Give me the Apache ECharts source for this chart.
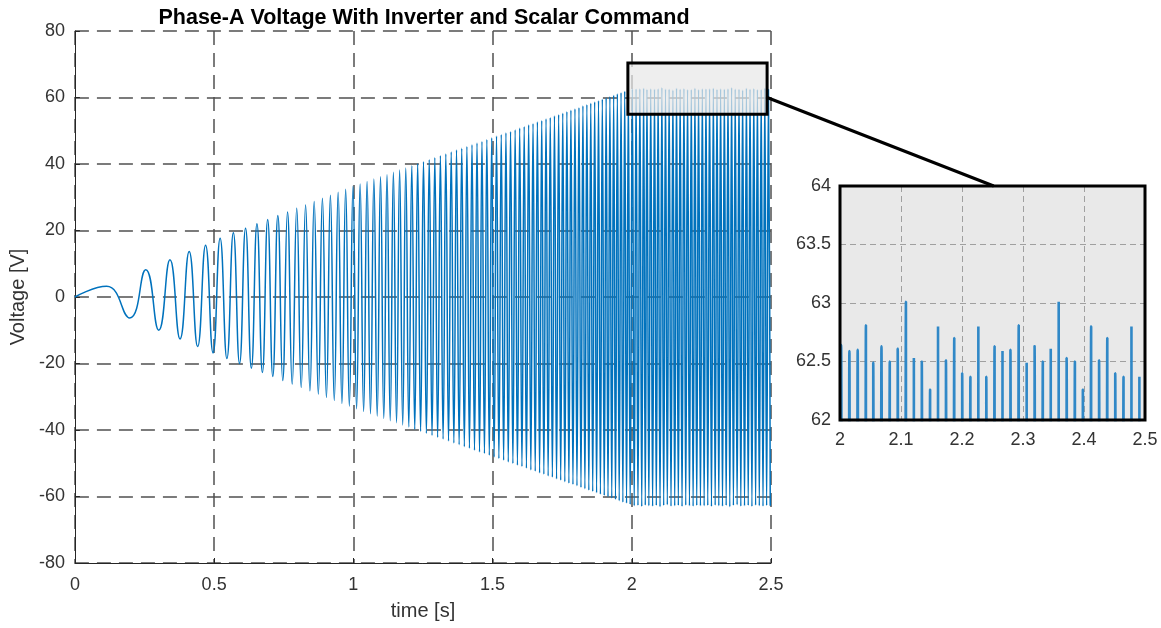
<!DOCTYPE html>
<html>
<head>
<meta charset="utf-8">
<script src="https://cdn.jsdelivr.net/npm/echarts@6/dist/echarts.min.js"></script>
<style>
  html, body { margin: 0; padding: 0; background: #fff; }
  #chart { width: 1161px; height: 628px; }
</style>
</head>
<body>
<div id="chart"></div>
<script>
// ---- Data ----
// Peak instants (s) of the chirp before t = 2 s (alternating +/- peaks)
const chirpTimes = [
  0.1138,0.1971,0.2545,0.3011,0.3414,0.3775,0.4103,0.4408,0.4693,0.4961,
  0.5215,0.5458,0.5690,0.5913,0.6129,0.6337,0.6538,0.6733,0.6923,0.7107,
  0.7288,0.7463,0.7635,0.7803,0.7967,0.8127,0.8285,0.8441,0.8593,0.8742,
  0.8889,0.9033,0.9176,0.9315,0.9454,0.9590,0.9724,0.9856,0.9987,1.0116,
  1.0243,1.0369,1.0493,1.0615,1.0738,1.0857,1.0976,1.1093,1.1209,1.1324,
  1.1438,1.1551,1.1662,1.1773,1.1883,1.1991,1.2099,1.2205,1.2310,1.2415,
  1.2519,1.2623,1.2725,1.2826,1.2926,1.3027,1.3126,1.3223,1.3321,1.3418,
  1.3515,1.3610,1.3705,1.3799,1.3893,1.3986,1.4078,1.4169,1.4261,1.4351,
  1.4441,1.4531,1.4619,1.4708,1.4795,1.4883,1.4969,1.5056,1.5142,1.5227,
  1.5312,1.5397,1.5480,1.5564,1.5646,1.5730,1.5811,1.5893,1.5974,1.6055,
  1.6136,1.6216,1.6296,1.6375,1.6453,1.6532,1.6610,1.6689,1.6766,1.6842,
  1.6920,1.6996,1.7072,1.7148,1.7223,1.7298,1.7373,1.7447,1.7521,1.7595,
  1.7669,1.7741,1.7814,1.7887,1.7959,1.8031,1.8103,1.8175,1.8245,1.8316,
  1.8387,1.8457,1.8527,1.8597,1.8667,1.8736,1.8805,1.8873,1.8942,1.9011,
  1.9079,1.9146,1.9214,1.9281,1.9349,1.9415,1.9482,1.9548,1.9614,1.9680,
  1.9746,1.9812,1.9877,1.9942
];
// Peak voltages (V) at those instants
const chirpPeaks = [
  3.2,-6.3,8.2,-10.0,11.2,-12.6,13.7,-14.9,15.6,-16.8,
  17.7,-18.5,19.3,-20.0,20.7,-21.4,22.0,-22.7,23.3,-23.9,
  24.5,-25.1,25.6,-26.2,26.7,-27.2,27.7,-28.2,28.7,-29.2,
  29.7,-30.2,30.6,-31.1,31.5,-32.0,32.4,-32.8,33.3,-33.6,
  34.0,-34.4,34.7,-35.1,35.5,-35.8,36.2,-36.5,36.8,-37.2,
  37.5,-37.8,38.2,-38.5,38.8,-39.1,39.5,-39.8,40.1,-40.4,
  40.7,-41.0,41.3,-41.6,41.9,-42.2,42.5,-42.7,43.0,-43.3,
  43.6,-43.9,44.2,-44.4,44.7,-45.0,45.3,-45.5,45.8,-46.1,
  46.3,-46.6,46.8,-47.1,47.4,-47.6,47.9,-48.1,48.4,-48.6,
  48.9,-49.1,49.4,-49.6,49.8,-50.1,50.3,-50.6,50.8,-51.0,
  51.3,-51.5,51.8,-52.0,52.2,-52.4,52.7,-52.9,53.1,-53.3,
  53.6,-53.8,54.0,-54.2,54.5,-54.7,54.9,-55.1,55.3,-55.6,
  55.8,-56.0,56.2,-56.4,56.6,-56.8,57.0,-57.3,57.5,-57.7,
  57.9,-58.1,58.3,-58.5,58.7,-58.9,59.1,-59.3,59.5,-59.7,
  59.9,-60.1,60.3,-60.5,60.7,-60.9,61.1,-61.3,61.5,-61.7,
  61.9,-62.0,62.2,-62.4
];
// Steady-state positive peaks
const steadyPosTimes = [
  2.0019,2.0154,2.0290,2.0425,2.0545,2.0680,2.0816,2.0946,2.1081,2.1211,
  2.1341,2.1477,2.1607,2.1737,2.1873,2.2003,2.2138,2.2268,2.2398,2.2534,
  2.2664,2.2794,2.2930,2.3060,2.3190,2.3325,2.3455,2.3585,2.3715,2.3851,
  2.3981,2.4117,2.4247,2.4382,2.4512,2.4648,2.4778,2.4908
];
const steadyPosPeaks = [
  62.64,62.59,62.60,62.81,62.49,62.63,62.50,62.61,63.01,62.53,
  62.50,62.26,62.80,62.51,62.70,62.40,62.37,62.80,62.37,62.63,
  62.59,62.60,62.81,62.49,62.63,62.50,62.61,63.01,62.53,62.50,
  62.26,62.80,62.51,62.70,62.40,62.37,62.80,62.37
];
// Steady-state negative peaks
const steadyNegTimes = [
  2.0087,2.0222,2.0358,2.0485,2.0613,2.0748,2.0881,2.1014,2.1146,2.1276,
  2.1409,2.1542,2.1672,2.1805,2.1938,2.2071,2.2203,2.2333,2.2466,2.2599,
  2.2729,2.2862,2.2995,2.3125,2.3258,2.3390,2.3520,2.3650,2.3783,2.3916,
  2.4049,2.4182,2.4315,2.4447,2.4580,2.4713,2.4843,2.4973
];
const steadyNegPeaks = [
  -62.8,-62.7,-63.0,-62.6,-62.8,-62.9,-62.7,-63.1,-62.7,-62.5,
  -62.9,-62.8,-62.7,-63.0,-62.6,-62.8,-62.9,-62.7,-62.8,-62.8,
  -62.7,-63.0,-62.6,-62.8,-62.9,-62.7,-63.1,-62.7,-62.5,-62.9,
  -62.8,-62.7,-63.0,-62.6,-62.8,-62.9,-62.7,-62.8
];
const startPoint = [0, 0];

// Axis settings
const mainX = { min: 0, max: 2.5, interval: 0.5 };
const mainY = { min: -80, max: 80, interval: 20 };
const insetX = { min: 2, max: 2.5, interval: 0.1 };
const insetY = { min: 62, max: 64, interval: 0.5 };
// Zoom box annotation (data coords) and connector end in inset
const zoomBox = { x0: 1.986, x1: 2.486, y0: 55.0, y1: 70.4 };
const connectorStart = [2.486, 60];
const connectorEnd = [2.252, 64];

// ---- Build series data ----
const signal = [startPoint];
for (let i = 0; i < chirpTimes.length; i++) signal.push([chirpTimes[i], chirpPeaks[i]]);
for (let i = 0; i < steadyPosTimes.length; i++) {
  signal.push([steadyPosTimes[i], steadyPosPeaks[i]]);
  signal.push([steadyNegTimes[i], steadyNegPeaks[i]]);
}

const FONT = "'Liberation Sans', Arial, Helvetica, sans-serif";
const gridDash = { color: '#505050', width: 1.5, type: [14, 8] };
const insetGrid = { left: 840, top: 186, width: 305, height: 234 };

const chart = echarts.init(document.getElementById('chart'), null, { renderer: 'canvas' });
chart.setOption({
  animation: false,
  backgroundColor: '#ffffff',
  title: {
    text: 'Phase-A Voltage With Inverter and Scalar Command',
    left: 419, top: 2, textAlign: 'center',
    textStyle: { fontFamily: FONT, fontSize: 21.5, fontWeight: 'bold', color: '#000' }
  },
  grid: [
    { left: 73, top: 31, width: 698, height: 532, containLabel: false },
    { left: insetGrid.left, top: insetGrid.top, width: insetGrid.width, height: insetGrid.height,
      show: true, backgroundColor: '#e9e9e9', borderWidth: 0 }
  ],
  xAxis: [
    {
      gridIndex: 0, type: 'value', min: mainX.min, max: mainX.max, interval: mainX.interval,
      name: 'time [s]', nameLocation: 'middle', nameGap: 38,
      nameTextStyle: { fontFamily: FONT, fontSize: 20, color: '#333' },
      axisLine: { show: true, onZero: false, lineStyle: { color: '#262626', width: 1 } },
      axisTick: { show: true, inside: true, length: 5, lineStyle: { color: '#262626' } },
      axisLabel: { fontFamily: FONT, fontSize: 18, color: '#333', margin: 13 },
      splitLine: { show: true, lineStyle: gridDash }
    },
    {
      gridIndex: 1, type: 'value', min: insetX.min, max: insetX.max, interval: insetX.interval,
      axisLine: { show: false },
      axisTick: { show: false },
      axisLabel: { fontFamily: FONT, fontSize: 18, color: '#333', margin: 11 },
      splitLine: { show: true, lineStyle: { color: '#a0a0a0', width: 1, type: [6, 4] } }
    }
  ],
  yAxis: [
    {
      gridIndex: 0, type: 'value', min: mainY.min, max: mainY.max, interval: mainY.interval,
      name: 'Voltage [V]', nameLocation: 'middle', nameGap: 44,
      nameTextStyle: { fontFamily: FONT, fontSize: 20, color: '#333' },
      axisLine: { show: true, onZero: false, lineStyle: { color: '#262626', width: 1 } },
      axisTick: { show: true, inside: true, length: 5, lineStyle: { color: '#262626' } },
      axisLabel: { fontFamily: FONT, fontSize: 18, color: '#333', margin: 10 },
      splitLine: { show: true, lineStyle: gridDash }
    },
    {
      gridIndex: 1, type: 'value', min: insetY.min, max: insetY.max, interval: insetY.interval,
      axisLine: { show: false },
      axisTick: { show: false },
      axisLabel: { fontFamily: FONT, fontSize: 18, color: '#333', margin: 9 },
      splitLine: { show: true, lineStyle: { color: '#a0a0a0', width: 1, type: [6, 4] } }
    }
  ],
  series: [
    {
      type: 'line', xAxisIndex: 0, yAxisIndex: 0, data: signal,
      smooth: 0.5, showSymbol: false, symbol: 'none', clip: true,
      lineStyle: { color: '#0072BD', width: 1.5 }, z: 2
    },
    {
      type: 'line', xAxisIndex: 1, yAxisIndex: 1, data: signal,
      smooth: 0.5, showSymbol: false, symbol: 'none', clip: true,
      lineStyle: { color: '#3088c7', width: 2.6 }, z: 2
    }
  ]
});

const a = chart.convertToPixel({ gridIndex: 0 }, [zoomBox.x0, zoomBox.y1]);
const b = chart.convertToPixel({ gridIndex: 0 }, [zoomBox.x1, zoomBox.y0]);
const c0 = chart.convertToPixel({ gridIndex: 0 }, connectorStart);
const c1 = chart.convertToPixel({ gridIndex: 1 }, connectorEnd);
chart.setOption({
  graphic: [
    { type: 'rect', z: 100,
      shape: { x: a[0], y: a[1], width: b[0] - a[0], height: b[1] - a[1] },
      style: { fill: 'rgba(232,232,232,0.72)', stroke: '#000', lineWidth: 3 } },
    { type: 'line', z: 100,
      shape: { x1: c0[0], y1: c0[1], x2: c1[0], y2: c1[1] },
      style: { stroke: '#000', lineWidth: 3 } },
    { type: 'rect', z: 100,
      shape: { x: insetGrid.left, y: insetGrid.top, width: insetGrid.width, height: insetGrid.height },
      style: { fill: 'none', stroke: '#000', lineWidth: 3 } }
  ]
});
</script>
</body>
</html>
